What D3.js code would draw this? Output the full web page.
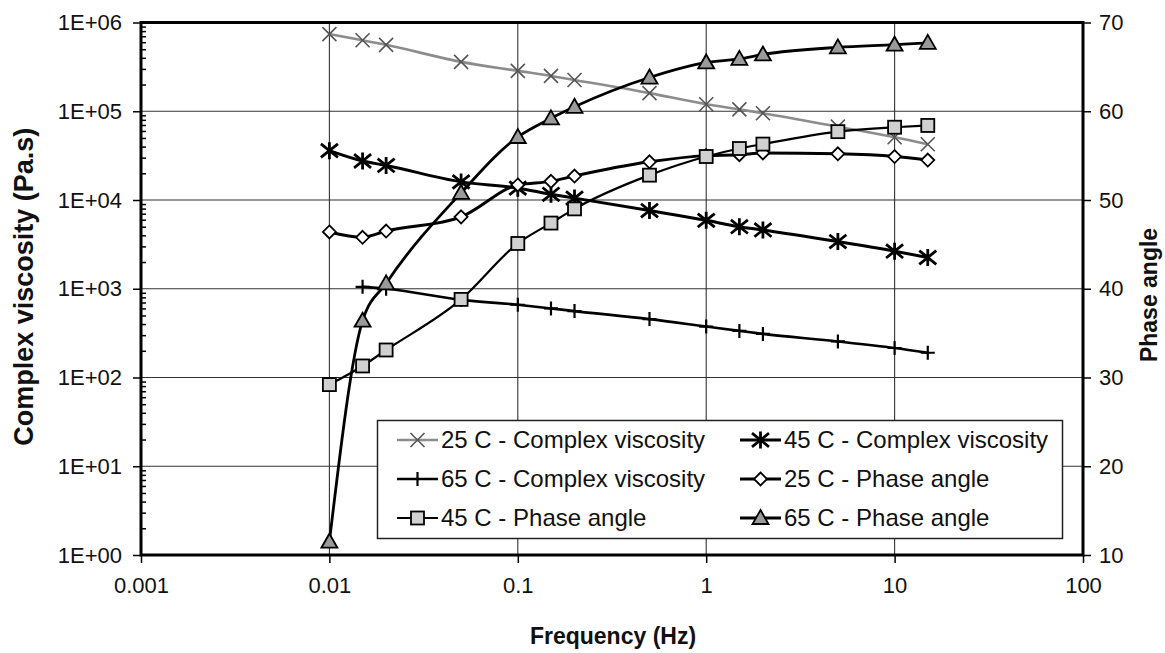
<!DOCTYPE html>
<html>
<head>
<meta charset="utf-8">
<script src="https://cdn.jsdelivr.net/npm/d3@7"></script>
<style>
  html, body { margin: 0; padding: 0; background: #fff; }
  svg { display: block; font-family: "Liberation Sans", Arial, sans-serif; }
</style>
</head>
<body>
<svg id="chart" width="1165" height="653"></svg>
<script>
// Oscillatory rheology: complex viscosity (log, left) and phase angle (right)
const freq = [0.01, 0.015, 0.02, 0.05, 0.1, 0.15, 0.2, 0.5, 1, 1.5, 2, 5, 10, 15];
const freq65Visc = [0.015, 0.02, 0.05, 0.1, 0.15, 0.2, 0.5, 1, 1.5, 2, 5, 10, 15];

const visc25 = [7.4e5, 6.3e5, 5.6e5, 3.6e5, 2.85e5, 2.5e5, 2.25e5, 1.6e5, 1.2e5, 1.05e5, 9.5e4, 6.7e4, 5.1e4, 4.25e4];
const visc45 = [3.6e4, 2.75e4, 2.45e4, 1.6e4, 1.36e4, 1.16e4, 1.05e4, 7.6e3, 5.9e3, 5.0e3, 4.6e3, 3.4e3, 2.65e3, 2.25e3];
const visc65 = [1.05e3, 1.0e3, 7.5e2, 6.6e2, 6.0e2, 5.6e2, 4.55e2, 3.75e2, 3.35e2, 3.1e2, 2.55e2, 2.15e2, 1.9e2];

const phase25 = [46.4, 45.8, 46.5, 48.1, 51.7, 52.1, 52.7, 54.3, 55.0, 55.1, 55.3, 55.2, 54.9, 54.5];
const phase45 = [29.2, 31.3, 33.1, 38.8, 45.1, 47.4, 49.0, 52.8, 54.9, 55.8, 56.3, 57.7, 58.2, 58.4];
const phase65 = [11.5, 36.4, 40.6, 50.8, 57.1, 59.2, 60.5, 63.8, 65.5, 65.9, 66.4, 67.2, 67.5, 67.7];

const xTicks = [0.001, 0.01, 0.1, 1, 10, 100];
const xTickLabels = ["0.001", "0.01", "0.1", "1", "10", "100"];
const yLeftTicks = [1, 10, 100, 1e3, 1e4, 1e5, 1e6];
const yLeftTickLabels = ["1E+00", "1E+01", "1E+02", "1E+03", "1E+04", "1E+05", "1E+06"];
const yRightTicks = [10, 20, 30, 40, 50, 60, 70];

const seriesNames = [
  "25 C - Complex viscosity", "45 C - Complex viscosity",
  "65 C - Complex viscosity", "25 C - Phase angle",
  "45 C - Phase angle", "65 C - Phase angle"
];

const svg = d3.select("#chart");
const plot = { left: 141, right: 1083, top: 22.5, bottom: 555 };

const x = d3.scaleLog().domain([0.001, 100]).range([plot.left, plot.right]);
const yL = d3.scaleLog().domain([1, 1e6]).range([plot.bottom, plot.top]);
const yR = d3.scaleLinear().domain([10, 70]).range([plot.bottom, plot.top]);

// grid
const grid = svg.append("g").attr("stroke", "#333").attr("stroke-width", 1.1);
xTicks.slice(1, -1).forEach(t => {
  grid.append("line").attr("x1", x(t)).attr("x2", x(t))
    .attr("y1", plot.top).attr("y2", plot.bottom);
});
yLeftTicks.slice(1, -1).forEach(t => {
  grid.append("line").attr("x1", plot.left).attr("x2", plot.right)
    .attr("y1", yL(t)).attr("y2", yL(t));
});

// axes
const fontTick = 22;
const xAxis = d3.axisBottom(x).tickValues(xTicks)
  .tickFormat((d, i) => xTickLabels[i]).tickSize(8).tickPadding(14);
const gx = svg.append("g").attr("transform", `translate(0,${plot.bottom})`).call(xAxis);

const yAxisL = d3.axisLeft(yL).tickValues(yLeftTicks)
  .tickFormat((d, i) => yLeftTickLabels[i]).tickSize(8).tickPadding(11);
const gyl = svg.append("g").attr("transform", `translate(${plot.left},0)`).call(yAxisL);

// minor log ticks on the inside of the left axis
const minor = [];
for (let e = 0; e < 6; e++) for (let m = 2; m <= 9; m++) minor.push(m * Math.pow(10, e));
const yMinor = d3.axisRight(yL).tickValues(minor).tickFormat("").tickSize(5);
svg.append("g").attr("transform", `translate(${plot.left},0)`).call(yMinor)
  .call(g => g.select(".domain").remove());

const yAxisR = d3.axisRight(yR).tickValues(yRightTicks).tickSize(8).tickPadding(8);
const gyr = svg.append("g").attr("transform", `translate(${plot.right},0)`).call(yAxisR);

[gx, gyl, gyr].forEach(g => {
  g.select(".domain").remove();
  g.selectAll(".tick text").attr("fill", "#111")
    .style("font-size", fontTick + "px").style("font-family", "'Liberation Sans', Arial, sans-serif");
});
svg.selectAll(".tick line").attr("stroke", "#000").attr("stroke-width", 1.5);

// plot frame
svg.append("rect")
  .attr("x", plot.left).attr("y", plot.top)
  .attr("width", plot.right - plot.left).attr("height", plot.bottom - plot.top)
  .attr("fill", "none").attr("stroke", "#000").attr("stroke-width", 3);

// axis titles
svg.append("text").attr("x", (plot.left + plot.right) / 2 + 1).attr("y", 644)
  .attr("text-anchor", "middle").attr("font-weight", "bold").attr("font-size", 23)
  .attr("fill", "#111").text("Frequency (Hz)");
svg.append("text").attr("transform", `translate(33,${(plot.top + plot.bottom) / 2 - 2}) rotate(-90)`)
  .attr("text-anchor", "middle").attr("font-weight", "bold").attr("font-size", 27)
  .attr("fill", "#111").text("Complex viscosity (Pa.s)");
svg.append("text").attr("transform", `translate(1157,${yR(39.3)}) rotate(-90)`)
  .attr("text-anchor", "middle").attr("font-weight", "bold").attr("font-size", 23)
  .attr("fill", "#111").text("Phase angle");

// marker shapes
function drawMarker(g, type, cx, cy) {
  if (type === "x") {
    const r = 7;
    g.append("path").attr("d", `M${cx - r},${cy - r}L${cx + r},${cy + r}M${cx - r},${cy + r}L${cx + r},${cy - r}`)
      .attr("stroke", "#555").attr("stroke-width", 1.6).attr("fill", "none");
  } else if (type === "star") {
    const r = 8.5;
    g.append("path").attr("d",
      `M${cx - r},${cy - r * 0.8}L${cx + r},${cy + r * 0.8}M${cx - r},${cy + r * 0.8}L${cx + r},${cy - r * 0.8}M${cx},${cy - r}L${cx},${cy + r}`)
      .attr("stroke", "#000").attr("stroke-width", 2.8).attr("fill", "none");
  } else if (type === "plus") {
    const r = 7;
    g.append("path").attr("d", `M${cx},${cy - r}L${cx},${cy + r}M${cx - r},${cy}L${cx + r},${cy}`)
      .attr("stroke", "#000").attr("stroke-width", 2.2).attr("fill", "none");
  } else if (type === "diamond") {
    const r = 6.5;
    g.append("path").attr("d", `M${cx},${cy - r}L${cx + r},${cy}L${cx},${cy + r}L${cx - r},${cy}Z`)
      .attr("stroke", "#000").attr("stroke-width", 1.8).attr("fill", "#fff");
  } else if (type === "square") {
    const r = 6.5;
    g.append("rect").attr("x", cx - r).attr("y", cy - r).attr("width", 2 * r).attr("height", 2 * r)
      .attr("stroke", "#000").attr("stroke-width", 1.8).attr("fill", "#d0d0d0");
  } else if (type === "triangle") {
    const r = 8;
    g.append("path").attr("d", `M${cx},${cy - r}L${cx + r},${cy + r * 0.75}L${cx - r},${cy + r * 0.75}Z`)
      .attr("stroke", "#000").attr("stroke-width", 1.8).attr("fill", "#9a9a9a");
  }
}

const series = [
  { xs: freq, ys: visc25, y: yL, marker: "x", color: "#8c8c8c", width: 2.6 },
  { xs: freq, ys: visc45, y: yL, marker: "star", color: "#000", width: 3 },
  { xs: freq65Visc, ys: visc65, y: yL, marker: "plus", color: "#000", width: 2.6 },
  { xs: freq, ys: phase25, y: yR, marker: "diamond", color: "#000", width: 3 },
  { xs: freq, ys: phase45, y: yR, marker: "square", color: "#000", width: 2.2 },
  { xs: freq, ys: phase65, y: yR, marker: "triangle", color: "#000", width: 2.8 }
];

const marks = svg.append("g");
series.forEach((s, i) => {
  const pts = s.xs.map((f, k) => [x(f), s.y(s.ys[k])]);
  const line = d3.line().curve(d3.curveMonotoneX);
  const g = marks.append("g").attr("class", "series-" + i);
  g.append("path").attr("d", line(pts)).attr("fill", "none")
    .attr("stroke", s.color).attr("stroke-width", s.width).attr("stroke-linejoin", "round");
  pts.forEach(p => drawMarker(g, s.marker, p[0], p[1]));
});

// legend
const legend = svg.append("g");
legend.append("rect").attr("x", 377.5).attr("y", 420.5).attr("width", 685).attr("height", 118)
  .attr("fill", "#fff").attr("stroke", "#222").attr("stroke-width", 1.5);
const colX = [397, 740];
const rowY = [440, 479, 518];
series.forEach((s, i) => {
  const cx0 = colX[i % 2], cy = rowY[Math.floor(i / 2)];
  const g = legend.append("g");
  g.append("line").attr("x1", cx0).attr("x2", cx0 + 41).attr("y1", cy).attr("y2", cy)
    .attr("stroke", s.color).attr("stroke-width", s.width);
  drawMarker(g, s.marker, cx0 + 20.5, cy);
  g.append("text").attr("x", cx0 + 44).attr("y", cy).attr("dy", "0.35em")
    .attr("font-size", 24).attr("fill", "#111").text(seriesNames[i]);
});
</script>
</body>
</html>
